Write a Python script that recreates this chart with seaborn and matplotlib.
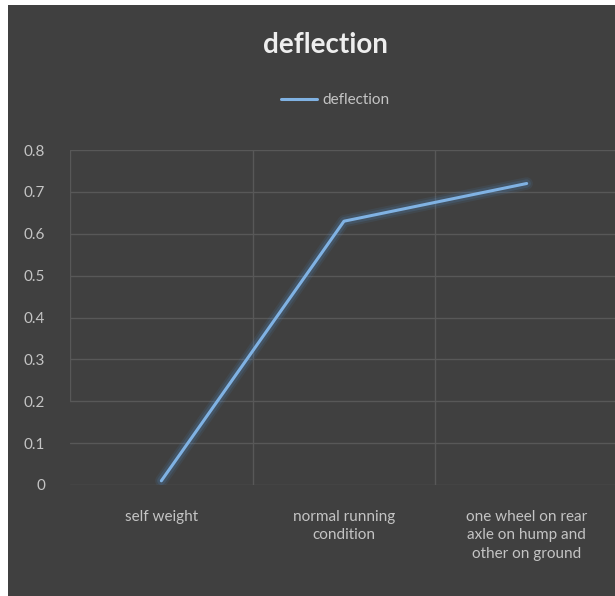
import matplotlib
matplotlib.use('Agg')
import matplotlib.pyplot as plt
import seaborn as sns
import pandas as pd
from matplotlib.patches import Rectangle

# data
categories = ['self weight', 'normal running\ncondition',
              'one wheel on rear\naxle on hump and\nother on ground']
deflection = [0.01, 0.63, 0.72]

df = pd.DataFrame({'case': categories, 'deflection': deflection})

bg = '#404040'
grid_col = '#585858'
text_col = '#c4c4c4'
line_col = '#80b2e3'

sns.set_style('dark')
plt.rcParams['font.family'] = ['Lato', 'DejaVu Sans']

fig = plt.figure(figsize=(6.15, 5.96), dpi=100, facecolor=bg)
ax = fig.add_axes([70 / 615, 1 - 485 / 596, 548 / 615, 335 / 596])
ax.set_facecolor(bg)

# glow under the line
for lw, a in [(9, 0.10), (6, 0.18)]:
    sns.lineplot(data=df, x='case', y='deflection', ax=ax, color='#4f8fd0',
                 linewidth=lw, alpha=a, sort=False, legend=False)
sns.lineplot(data=df, x='case', y='deflection', ax=ax, color=line_col,
             linewidth=2.2, sort=False, label='deflection')

ax.set_xlim(-0.5, 2.5)
ax.set_ylim(0, 0.8)
ax.set_yticks([i / 10 for i in range(9)])
ax.set_yticklabels(['0'] + [f'{i / 10:.1f}' for i in range(1, 9)])
ax.set_xticks(range(len(categories)))
ax.set_xticklabels(categories, linespacing=1.4)
ax.set_xticks([0.5, 1.5], minor=True)

ax.grid(axis='y', color=grid_col, linewidth=1)
ax.grid(axis='x', which='minor', color=grid_col, linewidth=1)
ax.grid(axis='x', which='major', visible=False)
ax.set_axisbelow(True)
for s in ax.spines.values():
    s.set_visible(False)
ax.axvline(-0.5, ymin=0.25, color=grid_col, linewidth=1)

ax.tick_params(axis='y', colors=text_col, labelsize=11, length=0, pad=18)
ax.tick_params(axis='x', colors=text_col, labelsize=11, length=0, pad=18)
ax.tick_params(axis='x', which='minor', length=0)
ax.set_xlabel('')
ax.set_ylabel('')

fig.text(325 / 615, 1 - 45 / 596, 'deflection', ha='center', va='center',
         fontsize=20, fontweight='bold', color='#eeeeee')

leg = ax.legend(loc='center', bbox_to_anchor=(335 / 615, 1 - 100 / 596),
                bbox_transform=fig.transFigure, frameon=False, fontsize=11,
                handlelength=2.4, handletextpad=0.3)
for t in leg.get_texts():
    t.set_color(text_col)

# white border strips left and top
fig.add_artist(Rectangle((0, 0), 8 / 615, 1, transform=fig.transFigure,
                         facecolor='white', edgecolor='none'))
fig.add_artist(Rectangle((0, 1 - 5 / 596), 1, 5 / 596, transform=fig.transFigure,
                         facecolor='white', edgecolor='none'))

fig.savefig('out.png', dpi=100, facecolor=bg)
